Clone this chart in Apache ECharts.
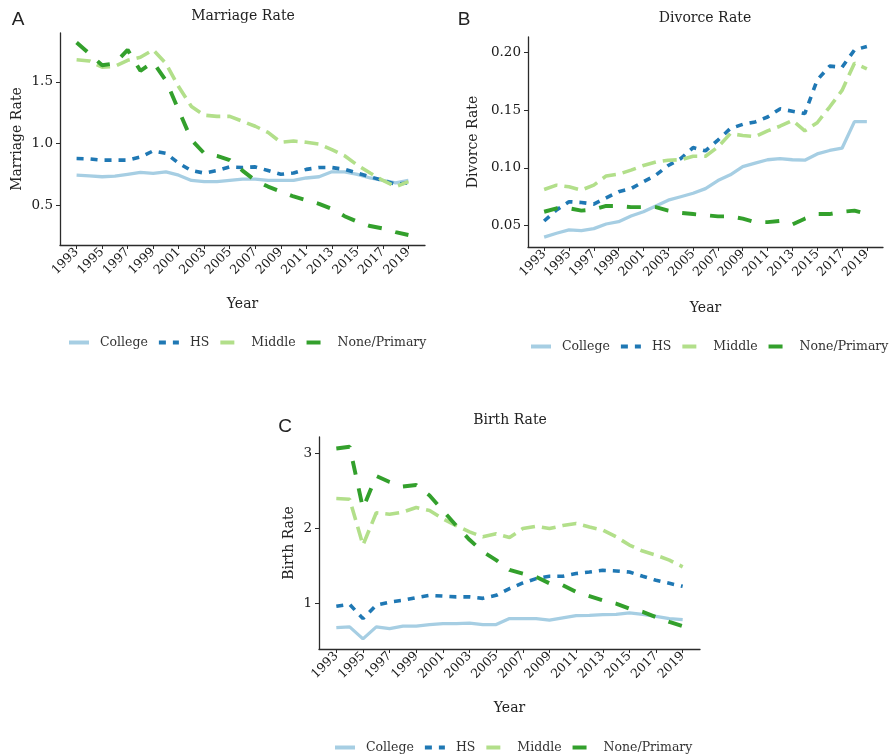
<!DOCTYPE html>
<html>
<head>
<meta charset="utf-8">
<script src="https://cdn.jsdelivr.net/npm/echarts@6/dist/echarts.min.js"></script>
<style>
html,body{margin:0;padding:0;background:#fff;}
#chart{width:896px;height:755px;}
</style>
</head>
<body>
<div id="chart"></div>
<script>
// ---- data ----
const years = [1993,1994,1995,1996,1997,1998,1999,2000,2001,2002,2003,2004,2005,2006,2007,2008,2009,2010,2011,2012,2013,2014,2015,2016,2017,2018,2019];
const xTickYears = [1993,1995,1997,1999,2001,2003,2005,2007,2009,2011,2013,2015,2017,2019];
const groups = ['College','HS','Middle','None/Primary'];

const marriageCollege = [0.743,0.737,0.73,0.735,0.75,0.765,0.757,0.77,0.743,0.70,0.69,0.69,0.70,0.71,0.71,0.70,0.70,0.70,0.72,0.73,0.77,0.77,0.75,0.72,0.70,0.68,0.70];
const marriageHS = [0.878,0.875,0.865,0.865,0.865,0.89,0.94,0.92,0.84,0.78,0.76,0.78,0.81,0.805,0.81,0.78,0.75,0.76,0.79,0.805,0.805,0.79,0.76,0.73,0.70,0.67,0.68];
const marriageMiddle = [1.68,1.67,1.62,1.627,1.675,1.70,1.76,1.65,1.46,1.30,1.23,1.22,1.22,1.18,1.14,1.09,1.01,1.02,1.01,0.995,0.95,0.90,0.825,0.76,0.70,0.65,0.69];
const marriageNone = [1.82,1.73,1.635,1.65,1.76,1.59,1.66,1.51,1.27,1.03,0.92,0.90,0.865,0.78,0.70,0.65,0.61,0.57,0.54,0.51,0.47,0.41,0.365,0.33,0.31,0.28,0.257];

const divorceCollege = [0.040,0.0434,0.0463,0.0457,0.0474,0.0514,0.0534,0.0583,0.062,0.067,0.072,0.075,0.078,0.082,0.089,0.094,0.101,0.104,0.107,0.108,0.107,0.1066,0.112,0.115,0.117,0.140,0.140];
const divorceHS = [0.054,0.0635,0.0707,0.070,0.0686,0.074,0.0793,0.082,0.088,0.0937,0.102,0.108,0.1175,0.1147,0.124,0.134,0.1376,0.1397,0.144,0.151,0.149,0.147,0.176,0.188,0.187,0.202,0.205];
const divorceMiddle = [0.0813,0.085,0.0836,0.0808,0.085,0.093,0.0945,0.098,0.102,0.105,0.1066,0.107,0.110,0.110,0.118,0.1296,0.128,0.127,0.132,0.136,0.141,0.132,0.139,0.1526,0.167,0.1905,0.1856];
const divorceNone = [0.062,0.065,0.065,0.063,0.064,0.067,0.067,0.066,0.066,0.066,0.063,0.061,0.060,0.059,0.058,0.058,0.056,0.053,0.053,0.054,0.051,0.056,0.060,0.060,0.062,0.063,0.060];

const birthCollege = [0.68,0.69,0.53,0.69,0.667,0.70,0.70,0.72,0.733,0.733,0.74,0.72,0.72,0.80,0.80,0.80,0.78,0.81,0.84,0.844,0.853,0.857,0.875,0.857,0.83,0.80,0.787];
const birthHS = [0.964,0.99,0.80,0.98,1.02,1.044,1.08,1.11,1.10,1.09,1.09,1.07,1.11,1.20,1.275,1.333,1.364,1.364,1.40,1.42,1.444,1.435,1.42,1.364,1.31,1.27,1.23];
const birthMiddle = [2.40,2.39,1.78,2.21,2.19,2.22,2.28,2.24,2.13,2.04,1.955,1.89,1.93,1.88,2.0,2.03,2.0,2.04,2.067,2.02,1.98,1.89,1.78,1.70,1.645,1.58,1.49];
const birthNone = [3.067,3.09,2.27,2.70,2.62,2.56,2.58,2.44,2.24,2.04,1.85,1.69,1.58,1.45,1.40,1.355,1.27,1.245,1.155,1.10,1.044,1.0,0.933,0.89,0.82,0.756,0.70];

const marriageTicks = [0.5,1.0,1.5];
const divorceTicks = [0.05,0.10,0.15,0.20];
const birthTicks = [1,2,3];

// ---- styles ----
const SERIF = 'DejaVu Serif';
const colors = {'College':'#a6cee3','HS':'#1f78b4','Middle':'#b2df8a','None/Primary':'#33a02c'};
const dashes = {'College':'solid','HS':[7,7],'Middle':[14,7],'None/Primary':[14,14]};
const widths = {'College':3.3,'HS':3.6,'Middle':3.6,'None/Primary':3.9};
const axisColor = '#2b2b2b';

const panels = [
  {grid:{left:60, top:33, width:365, height:212}, ymin:0.176, ymax:1.897, ticks:marriageTicks, dec:1, yname:'Marriage Rate', ygap:36, xgap:52,
   data:[marriageCollege, marriageHS, marriageMiddle, marriageNone]},
  {grid:{left:528, top:37, width:355, height:210}, ymin:0.0315, ymax:0.2132, ticks:divorceTicks, dec:2, yname:'Divorce Rate', ygap:48, xgap:54,
   data:[divorceCollege, divorceHS, divorceMiddle, divorceNone]},
  {grid:{left:319, top:437, width:381, height:212}, ymin:0.395, ymax:3.22, ticks:birthTicks, dec:0, yname:'Birth Rate', ygap:23, xgap:52,
   data:[birthCollege, birthHS, birthMiddle, birthNone]}
];

const grid = [], xAxis = [], yAxis = [], series = [];
panels.forEach((p, i) => {
  grid.push(Object.assign({containLabel:false}, p.grid));
  xAxis.push({
    type:'value', gridIndex:i, min:1991.7, max:2020.3,
    name:'Year', nameLocation:'middle', nameGap:p.xgap,
    nameTextStyle:{fontFamily:SERIF, fontSize:14, color:'#222'},
    axisLine:{show:true, lineStyle:{color:axisColor, width:1.3}},
    axisTick:{show:true, length:4, customValues:xTickYears, lineStyle:{color:axisColor, width:1}},
    axisLabel:{customValues:xTickYears, rotate:45, margin:5, fontFamily:SERIF, fontSize:12.5, color:'#1a1a1a',
      formatter:v => String(v)},
    splitLine:{show:false}
  });
  yAxis.push({
    type:'value', gridIndex:i, min:p.ymin, max:p.ymax,
    name:p.yname, nameLocation:'middle', nameGap:p.ygap, nameRotate:90,
    nameTextStyle:{fontFamily:SERIF, fontSize:14, color:'#222'},
    axisLine:{show:true, lineStyle:{color:axisColor, width:1.3}},
    axisTick:{show:true, length:4, customValues:p.ticks, lineStyle:{color:axisColor, width:1}},
    axisLabel:{customValues:p.ticks, margin:7, fontFamily:SERIF, fontSize:13.5, color:'#1a1a1a',
      formatter:v => Number(v).toFixed(p.dec)},
    splitLine:{show:false}
  });
  groups.forEach((g, k) => {
    series.push({
      type:'line', name:g, xAxisIndex:i, yAxisIndex:i,
      data: years.map((y, j) => [y, p.data[k][j]]),
      symbol:'none', showSymbol:false, silent:true, animation:false,
      color: colors[g],
      lineStyle:{color:colors[g], width:widths[g], type:dashes[g], cap:'butt'}
    });
  });
});

const legendBase = {
  data: groups, orient:'horizontal', itemWidth:20, itemHeight:12, itemGap:9,
  selectedMode:false, width:420, padding:0,
  lineStyle:{width:4},
  itemStyle:{color:'rgba(0,0,0,0)', borderColor:'rgba(0,0,0,0)', borderWidth:0},
  textStyle:{fontFamily:SERIF, fontSize:12.5, color:'#333', padding:[0,0,0,6]}
};
const legend = [
  Object.assign({left:67, top:336}, legendBase),
  Object.assign({left:529, top:340}, legendBase),
  Object.assign({left:333, top:741}, legendBase)
];

const txt = (x, y, text, font, size, color) => ({
  type:'text', x:x, y:y, silent:true,
  style:{text:text, fontFamily:font, fontSize:size, fill:color, textAlign:'center', textVerticalAlign:'middle'}
});
const graphic = [
  txt(243, 16, 'Marriage Rate', SERIF, 14, '#222'),
  txt(705, 18, 'Divorce Rate', SERIF, 14, '#222'),
  txt(510, 420, 'Birth Rate', SERIF, 14, '#222'),
  txt(18, 20, 'A', 'Liberation Sans', 19, '#222'),
  txt(464, 20, 'B', 'Liberation Sans', 19, '#222'),
  txt(285, 427, 'C', 'Liberation Sans', 19, '#222')
];

const chart = echarts.init(document.getElementById('chart'), null, {renderer:'canvas'});
chart.setOption({
  animation:false,
  backgroundColor:'#ffffff',
  grid, xAxis, yAxis, series, legend, graphic
});
</script>
</body>
</html>
